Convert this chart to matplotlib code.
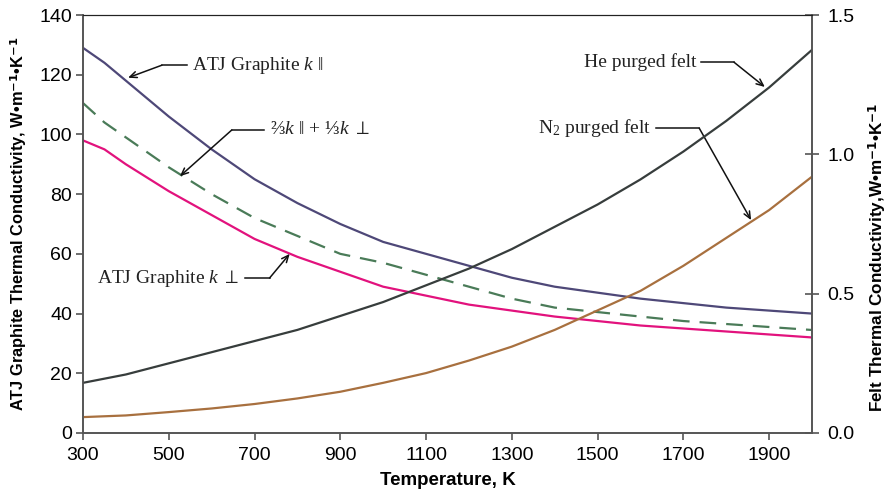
import numpy as np
import matplotlib
matplotlib.use('Agg')
from matplotlib import pyplot as plt

### 1. DATA
temp = [300, 350, 400, 500, 600, 700, 800, 900, 1000, 1100, 1200, 1300, 1400, 1500, 1600, 1700, 1800, 1900, 2000]
k_par = [129, 124, 118, 106, 95, 85, 77, 70, 64, 60, 56, 52, 49, 47, 45, 43.5, 42, 41, 40]
k_perp = [98, 95, 90, 81, 73, 65, 59, 54, 49, 46, 43, 41, 39, 37.5, 36, 35, 34, 33, 32]
k_avg = [110.5, 104, 99, 89, 80, 72, 66, 60, 57, 53, 49, 45, 42, 40.5, 39, 37.5, 36.5, 35.5, 34.5]

temp_felt = [300, 400, 500, 600, 700, 800, 900, 1000, 1100, 1200, 1300, 1400, 1500, 1600, 1700, 1800, 1900, 2000]
he_felt = [0.18, 0.21, 0.25, 0.29, 0.33, 0.37, 0.42, 0.47, 0.53, 0.59, 0.66, 0.74, 0.82, 0.91, 1.01, 1.12, 1.24, 1.375]
n2_felt = [0.057, 0.063, 0.075, 0.088, 0.104, 0.124, 0.148, 0.18, 0.215, 0.26, 0.31, 0.37, 0.44, 0.51, 0.60, 0.70, 0.80, 0.92]

x_ticks = [300, 500, 700, 900, 1100, 1300, 1500, 1700, 1900]

### 2. STYLE
plt.rcParams['font.family'] = ['Liberation Sans', 'DejaVu Sans']
plt.rcParams['mathtext.fontset'] = 'custom'
plt.rcParams['mathtext.rm'] = 'Liberation Serif'
plt.rcParams['mathtext.it'] = 'Liberation Serif:italic'
serif = ['Liberation Serif', 'DejaVu Serif']
spine_col = '#555555'

fig = plt.figure(figsize=(8.86, 4.94), dpi=100)
ax = fig.add_axes([0.0937, 0.1235, 0.8228, 0.8461])
ax2 = ax.twinx()

ax.plot(temp, k_par, color='#4e4878', lw=1.6)
ax.plot(temp, k_perp, color='#e2127d', lw=1.6)
ax.plot(temp, k_avg, color='#4a7b58', lw=1.6, dashes=(7.5, 4.5))
ax2.plot(temp_felt, he_felt, color='#373d3c', lw=1.6)
ax2.plot(temp_felt, n2_felt, color='#a8703f', lw=1.6)

ax.set_xlim(300, 2000)
ax.set_ylim(0, 140)
ax2.set_ylim(0, 1.5)
ax.set_xticks(x_ticks)
ax.set_yticks(range(0, 141, 20))
ax2.set_yticks([0.0, 0.5, 1.0, 1.5])
ax2.set_yticklabels(['0.0', '0.5', '1.0', '1.5'])

for a in (ax, ax2):
    for s in a.spines.values():
        s.set_color(spine_col)
        s.set_linewidth(1.2)
    a.spines['top'].set_color('#222222')
    a.spines['top'].set_linewidth(0.8)
ax.tick_params(axis='both', labelsize=14, color=spine_col, length=5, width=1.2, pad=3)
ax.tick_params(axis='x', pad=5)
ax2.tick_params(axis='y', direction='inout', labelsize=14, color=spine_col, length=10, width=1.2, pad=6)

ax.set_xlabel('Temperature, K', fontsize=13.5, fontweight='bold', labelpad=6)
ax.set_ylabel(r'ATJ Graphite Thermal Conductivity, W•m$^{\mathbf{-1}}$•K$^{\mathbf{-1}}$',
              fontsize=11.8, fontweight='bold', labelpad=7)
ax2.set_ylabel(r'Felt Thermal Conductivity,W•m$^{\mathbf{-1}}$•K$^{\mathbf{-1}}$',
               fontsize=12.3, fontweight='bold')
ax2.yaxis.set_label_coords(1.074, 0.42)

### 3. ANNOTATIONS (text anchor, elbow, arrow tip) in left-axis data coords
notes = [
    (r'ATJ Graphite $k$ $\Vert$', (554, 123.2), (484, 123.2), (405, 119), 'left'),
    (r'⅔$k$ $\Vert$ + ⅓$k$ $\perp$', (735, 101.5), (647, 101.5), (526, 86), 'left'),
    (r'ATJ Graphite $k$ $\perp$', (665, 51.9), (735, 51.9), (782, 60), 'right'),
    ('He purged felt', (1730, 124.2), (1818, 124.2), (1890, 115.9), 'right'),
    (r'N$_2$ purged felt', (1625, 102.1), (1737, 102.1), (1858, 71.3), 'right'),
]
for label, txt, elbow, tip, ha in notes:
    gap = -12 if ha == 'left' else 12
    ax.text(txt[0], txt[1], label, ha=ha, va='center', fontsize=14, family=serif, color='#222222')
    ax.plot([txt[0] + gap, elbow[0]], [txt[1], elbow[1]], color='#111111', lw=1.1)
    ax.annotate('', xy=tip, xytext=elbow,
                arrowprops=dict(arrowstyle='->,head_length=0.5,head_width=0.22',
                                color='#111111', lw=1.1, shrinkA=0, shrinkB=0))

fig.savefig('out.png', dpi=100)
